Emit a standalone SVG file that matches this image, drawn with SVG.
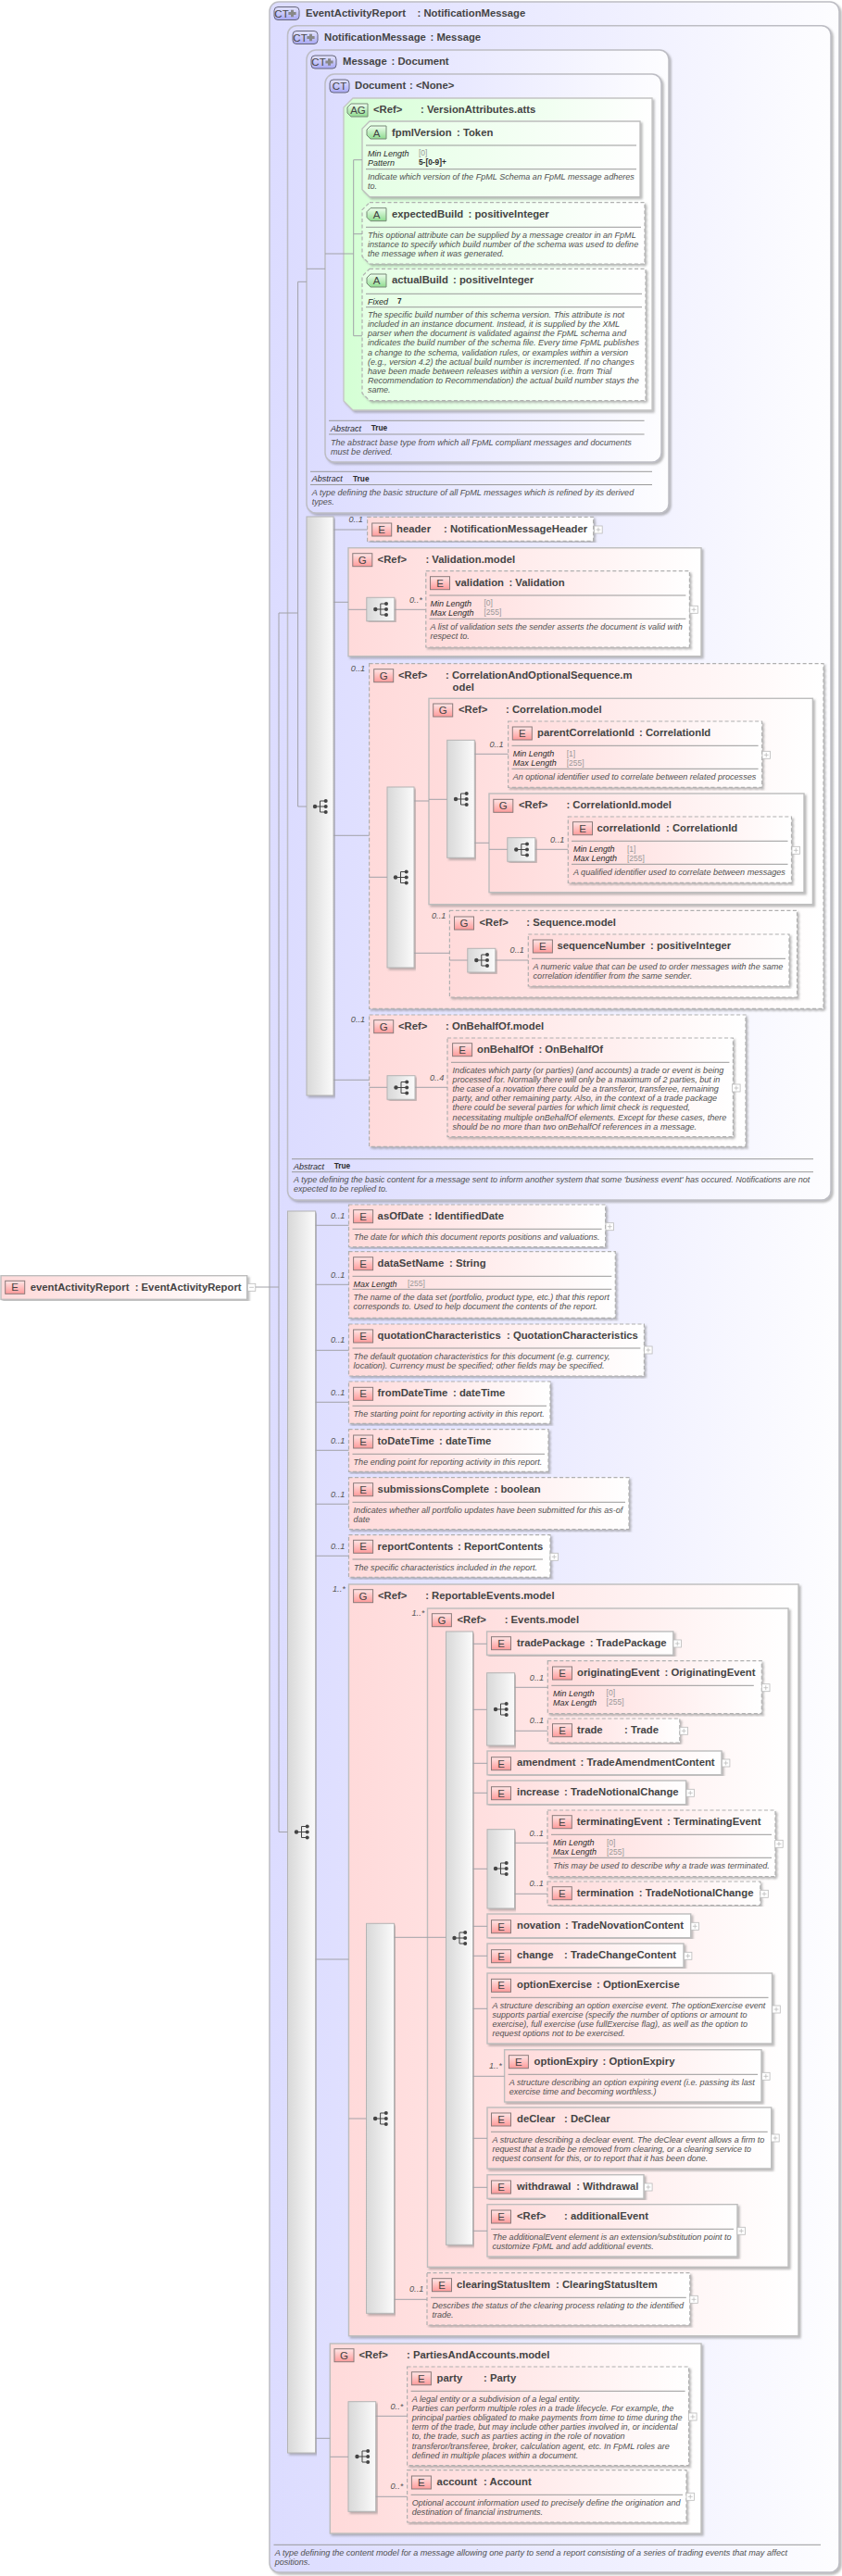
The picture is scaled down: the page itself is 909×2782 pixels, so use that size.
<svg xmlns="http://www.w3.org/2000/svg" width="909" height="2782" viewBox="0 0 909 2782">
<style>
text{font-family:"Liberation Sans",Arial,sans-serif}
.n{font-weight:700;font-size:11.3px;fill:#444}
.d{font-style:italic;font-size:9.05px;fill:#505050}
.k{font-style:italic;font-size:9px;fill:#2a2a2a}
.v{font-size:8.5px;fill:#999}
.b{font-weight:700;font-size:8.3px;fill:#2a2a2a}
.c{font-style:italic;font-size:9.2px;fill:#555}
.i{font-size:11.5px;fill:#444;text-anchor:middle}
.r{fill:none;stroke:#999;stroke-width:1}
.ct{fill:url(#gC);stroke:#bdbdc4;stroke-width:1.5;filter:url(#sh)}
.es{fill:url(#gE);stroke:#bdbdbd;stroke-width:1.4;filter:url(#sh)}
.ed{fill:url(#gE);stroke:#b0b0b0;stroke-width:1.2;stroke-dasharray:4 2.5;filter:url(#sh)}
.ag{fill:url(#gA);stroke:#c4c4c4;stroke-width:1.3;filter:url(#sh)}
.as{fill:url(#gA2);stroke:#bdbdbd;stroke-width:1.3;filter:url(#sh)}
.ad{fill:url(#gA2);stroke:#b0b0b0;stroke-width:1.2;stroke-dasharray:4 2.5;filter:url(#sh)}
.sq{fill:url(#gS);stroke:#b4b4b4;stroke-width:1;filter:url(#sh)}
#conn path{fill:none;stroke:#a2a2a8;stroke-width:1}
</style>
<defs>
<linearGradient id="gC"><stop offset="0" stop-color="#dcdcff"/><stop offset=".15" stop-color="#e0e0ff"/><stop offset="1" stop-color="#fdfdff"/></linearGradient>
<linearGradient id="gE"><stop offset="0" stop-color="#ffdada"/><stop offset=".15" stop-color="#ffdfdf"/><stop offset="1" stop-color="#ffffff"/></linearGradient>
<linearGradient id="gA"><stop offset="0" stop-color="#d4ffd4"/><stop offset=".15" stop-color="#dcffdc"/><stop offset="1" stop-color="#ffffff"/></linearGradient>
<linearGradient id="gA2"><stop offset="0" stop-color="#e4ffe4"/><stop offset="1" stop-color="#ffffff"/></linearGradient>
<linearGradient id="gS"><stop offset="0" stop-color="#d8d8d8"/><stop offset="1" stop-color="#fbfbfb"/></linearGradient>
<linearGradient id="gIE" x2="0" y2="1"><stop offset="0" stop-color="#ffe6e6"/><stop offset="1" stop-color="#ff9a9a"/></linearGradient>
<linearGradient id="gIC" x2="0" y2="1"><stop offset="0" stop-color="#e4e4ff"/><stop offset="1" stop-color="#a8a8f4"/></linearGradient>
<linearGradient id="gIA" x2="0" y2="1"><stop offset="0" stop-color="#eeffee"/><stop offset="1" stop-color="#8fdc8f"/></linearGradient>
<filter id="sh" x="-5%" y="-5%" width="110%" height="110%"><feDropShadow dx="2" dy="2" stdDeviation=".8" flood-color="#777" flood-opacity=".5"/></filter>
<g id="seq" fill="#444"><circle cx="-5.5" cy="0" r="2.2"/><circle cx="6.2" cy="-6" r="2"/><circle cx="6.2" cy="0" r="2"/><circle cx="6.2" cy="6" r="2"/><path d="M-5.5 0H6M0 -6V6M0 -6H6M0 6H6" fill="none" stroke="#444"/></g>
<g id="plus"><rect width="8.5" height="8" fill="#fff" stroke="#bbb" stroke-width=".8"/><path d="M1.8 4H6.7M4.25 1.6V6.4" stroke="#bbb" stroke-width=".8" fill="none"/></g>
<g id="minus"><rect width="8.5" height="8" fill="#fff" stroke="#bbb" stroke-width=".8"/><path d="M1.8 4H6.7" stroke="#bbb" stroke-width=".8" fill="none"/></g>
<rect id="ie" width="21" height="14" fill="url(#gIE)" stroke="#8a7a7a"/>
<rect id="ict" width="21" height="14" rx="4" fill="url(#gIC)" stroke="#66667a"/>
<g id="ictp"><rect width="27" height="14" rx="4" fill="url(#gIC)" stroke="#66667a"/><path d="M18 3.2h3v2.3h2.6v3h-2.6v2.3h-3v-2.3h-2.6v-3h2.6z" fill="#888"/></g>
<path id="ia" d="M4 0H21V14H4L0 10V4Z" fill="url(#gIA)" stroke="#778877"/>
</defs>

<g id="nodes">
<g id="root"><rect class="es" x="1" y="1377.7" width="265.7" height="25.6"/><use href="#ie" x="5.7" y="1383.3"/><text class="i" x="16.2" y="1394.3">E</text><text class="n" x="32.7" y="1394">eventActivityReport</text><text class="n" x="145.7" y="1394">: EventActivityReport</text><use href="#minus" x="267.3" y="1386.3"/></g>

<g id="ct-EventActivityReport"><rect class="ct" x="291" y="2" width="615" height="2776" rx="10"/><use href="#ictp" x="296" y="7.5"/><text class="i" x="304" y="18.5">CT</text><text class="n" x="330" y="18">EventActivityReport</text><text class="n" x="450.5" y="18">: NotificationMessage</text>
<path class="r" d="M295.5 2748.3H886"/><text class="d" x="296.7" y="2760">A type defining the content model for a message allowing one party to send a report consisting of a series of trading events that may affect</text><text class="d" x="296.7" y="2770">positions.</text></g>

<g id="ct-NotificationMessage"><rect class="ct" x="310.5" y="27.7" width="586.5" height="1268.3" rx="10"/><use href="#ictp" x="316" y="33.5"/><text class="i" x="324" y="44.5">CT</text><text class="n" x="350" y="44">NotificationMessage</text><text class="n" x="464.5" y="44">: Message</text>
<path class="r" d="M315 1251.7H878M315 1265.7H878"/><text class="k" x="317" y="1262.5">Abstract</text><text class="b" x="360.7" y="1262">True</text><text class="d" x="317" y="1277">A type defining the basic content for a message sent to inform another system that some 'business event' has occured. Notifications are not</text><text class="d" x="317" y="1287">expected to be replied to.</text></g>

<g id="ct-Message"><rect class="ct" x="331" y="54" width="391" height="500" rx="10"/><use href="#ictp" x="336" y="60"/><text class="i" x="344" y="71">CT</text><text class="n" x="370" y="70">Message</text><text class="n" x="422.5" y="70">: Document</text>
<path class="r" d="M335 509.3H704M335 523.5H704"/><text class="k" x="336.7" y="520">Abstract</text><text class="b" x="381" y="519.5">True</text><text class="d" x="336.7" y="535">A type defining the basic structure of all FpML messages which is refined by its derived</text><text class="d" x="336.7" y="545">types.</text></g>

<g id="ct-Document"><rect class="ct" x="351" y="80" width="363" height="419" rx="10"/><use href="#ict" x="356" y="86"/><text class="i" x="366.5" y="97">CT</text><text class="n" x="383" y="96">Document</text><text class="n" x="442" y="96">: &lt;None&gt;</text>
<path class="r" d="M355 454.3H695.6M355 469H695.6"/><text class="k" x="357" y="465.5">Abstract</text><text class="b" x="400.7" y="465">True</text><text class="d" x="357" y="481">The abstract base type from which all FpML compliant messages and documents</text><text class="d" x="357" y="491">must be derived.</text></g>

<g id="ag-VersionAttributes"><path class="ag" d="M381 106H704V443H381L371 433V116Z"/><path d="M379 112H397V126H379L375 122V116Z" fill="url(#gIA)" stroke="#778877"/><text class="i" x="386.5" y="123">AG</text><text class="n" x="403" y="122">&lt;Ref&gt;</text><text class="n" x="454" y="122">: VersionAttributes.atts</text></g>

<g id="a-fpmlVersion"><path class="as" d="M399 131H691V212.7H399L391 204.7V139Z"/><use href="#ia" x="396" y="136"/><text class="i" x="406.5" y="147.5">A</text><text class="n" x="423" y="147">fpmlVersion</text><text class="n" x="493" y="147">: Token</text>
<path class="r" d="M395 157H687M395 182.7H687"/><text class="k" x="397" y="168.5">Min Length</text><text class="v" x="452" y="168">[0]</text><text class="k" x="397" y="178.6">Pattern</text><text class="b" x="452" y="178">5-[0-9]+</text><text class="d" x="397" y="194">Indicate which version of the FpML Schema an FpML message adheres</text><text class="d" x="397" y="204">to.</text></g>

<g id="a-expectedBuild"><path class="ad" d="M399 218.7H696V285H399L391 277V226.7Z"/><use href="#ia" x="396" y="224.7"/><text class="i" x="406.5" y="236">A</text><text class="n" x="423" y="235">expectedBuild</text><text class="n" x="505.5" y="235">: positiveInteger</text>
<path class="r" d="M395 245.3H692"/><text class="d" x="397" y="256.5">This optional attribute can be supplied by a message creator in an FpML</text><text class="d" x="397" y="266.5">instance to specify which build number of the schema was used to define</text><text class="d" x="397" y="277">the message when it was generated.</text></g>

<g id="a-actualBuild"><path class="ad" d="M399 290.3H697V432.7H399L391 424.7V298.3Z"/><use href="#ia" x="396" y="296"/><text class="i" x="406.5" y="307.3">A</text><text class="n" x="423" y="306">actualBuild</text><text class="n" x="489" y="306">: positiveInteger</text>
<path class="r" d="M395 317.3H693M395 331.7H693"/><text class="k" x="397" y="329">Fixed</text><text class="b" x="429" y="328">7</text>
<text class="d"><tspan x="397" y="343">The specific build number of this schema version. This attribute is not</tspan><tspan x="397" y="353.1">included in an instance document. Instead, it is supplied by the XML</tspan><tspan x="397" y="363.3">parser when the document is validated against the FpML schema and</tspan><tspan x="397" y="373.4">indicates the build number of the schema file. Every time FpML publishes</tspan><tspan x="397" y="383.5">a change to the schema, validation rules, or examples within a version</tspan><tspan x="397" y="393.6">(e.g., version 4.2) the actual build number is incremented. If no changes</tspan><tspan x="397" y="403.7">have been made between releases within a version (i.e. from Trial</tspan><tspan x="397" y="413.8">Recommendation to Recommendation) the actual build number stays the</tspan><tspan x="397" y="424">same.</tspan></text></g>

<g id="seq-1"><rect class="sq" x="331" y="558" width="29" height="625"/><use href="#seq" x="345.5" y="871"/></g>

<g id="e-header"><rect class="ed" x="396.6" y="558.3" width="244" height="26"/><use href="#ie" x="401.7" y="565"/><text class="i" x="412.2" y="576">E</text><text class="n" x="428" y="575">header</text><text class="n" x="479" y="575">: NotificationMessageHeader</text><use href="#plus" x="641.7" y="568"/></g>

<g id="g-Validation"><rect class="es" x="376" y="591.7" width="381" height="117"/><use href="#ie" x="380.8" y="597.7"/><text class="i" x="391.3" y="608.7">G</text><text class="n" x="407.6" y="607.5">&lt;Ref&gt;</text><text class="n" x="459.4" y="607.5">: Validation.model</text></g>
<g id="seq-val"><rect class="sq" x="395.8" y="645.3" width="30" height="25.4"/><use href="#seq" x="410.8" y="658"/></g>
<g id="e-validation"><rect class="ed" x="459.8" y="616.7" width="284.6" height="82.3"/><use href="#ie" x="464.5" y="622.7"/><text class="i" x="475" y="633.7">E</text><text class="n" x="491.3" y="632.8">validation</text><text class="n" x="549.4" y="632.8">: Validation</text>
<path class="r" d="M463.5 643H740.4M463.5 668.3H740.4"/><text class="k" x="464.5" y="654.5">Min Length</text><text class="v" x="522.5" y="654">[0]</text><text class="k" x="464.5" y="664.5">Max Length</text><text class="v" x="522.5" y="664">[255]</text><text class="d" x="464.5" y="680">A list of validation sets the sender asserts the document is valid with</text><text class="d" x="464.5" y="690">respect to.</text><use href="#plus" x="744.8" y="654.3"/></g>

<g id="g-CorrelationAndOptionalSequence"><rect class="ed" x="398.6" y="716.7" width="490.4" height="372.6"/><use href="#ie" x="403.7" y="722.7"/><text class="i" x="414.2" y="733.7">G</text><text class="n" x="430" y="733">&lt;Ref&gt;</text><text class="n" x="481" y="733">: CorrelationAndOptionalSequence.m</text><text class="n" x="488.6" y="745.5">odel</text></g>
<g id="seq-2"><rect class="sq" x="418" y="850" width="29" height="195"/><use href="#seq" x="432.5" y="947.5"/></g>

<g id="g-Correlation"><rect class="es" x="463" y="754.3" width="414.4" height="222.4"/><use href="#ie" x="467.7" y="760"/><text class="i" x="478.2" y="771">G</text><text class="n" x="495" y="770">&lt;Ref&gt;</text><text class="n" x="546" y="770">: Correlation.model</text></g>
<g id="seq-3"><rect class="sq" x="482.7" y="799.3" width="29.6" height="127"/><use href="#seq" x="497.5" y="863"/></g>
<g id="e-parentCorrelationId"><rect class="ed" x="548.6" y="779" width="274" height="71.3"/><use href="#ie" x="553.3" y="785"/><text class="i" x="563.8" y="796">E</text><text class="n" x="580" y="795">parentCorrelationId</text><text class="n" x="690" y="795">: CorrelationId</text>
<path class="r" d="M552.5 805.3H818.6M552.5 830.3H818.6"/><text class="k" x="553.7" y="817">Min Length</text><text class="v" x="611.7" y="816.5">[1]</text><text class="k" x="553.7" y="827">Max Length</text><text class="v" x="611.7" y="826.5">[255]</text><text class="d" x="553.7" y="842">An optional identifier used to correlate between related processes</text><use href="#plus" x="823" y="811.3"/></g>
<g id="g-CorrelationId"><rect class="es" x="528" y="857" width="340" height="106.7"/><use href="#ie" x="532.8" y="863.3"/><text class="i" x="543.3" y="874.3">G</text><text class="n" x="560" y="873">&lt;Ref&gt;</text><text class="n" x="611.4" y="873">: CorrelationId.model</text></g>
<g id="seq-corrid"><rect class="sq" x="547.8" y="904.7" width="30" height="25.6"/><use href="#seq" x="562.8" y="917.5"/></g>
<g id="e-correlationId"><rect class="ed" x="613.3" y="882" width="241.2" height="71.3"/><use href="#ie" x="618.5" y="887.7"/><text class="i" x="629" y="898.7">E</text><text class="n" x="644.5" y="898">correlationId</text><text class="n" x="719" y="898">: CorrelationId</text>
<path class="r" d="M617 908.3H850.5M617 933.3H850.5"/><text class="k" x="618.9" y="920">Min Length</text><text class="v" x="677" y="919.5">[1]</text><text class="k" x="618.9" y="930">Max Length</text><text class="v" x="677" y="929.5">[255]</text><text class="d" x="618.9" y="945">A qualified identifier used to correlate between messages</text><use href="#plus" x="855" y="914.3"/></g>

<g id="g-Sequence"><rect class="ed" x="485.4" y="983.3" width="375.1" height="93.7"/><use href="#ie" x="490.5" y="990"/><text class="i" x="501" y="1001">G</text><text class="n" x="517.4" y="1000">&lt;Ref&gt;</text><text class="n" x="568.3" y="1000">: Sequence.model</text></g>
<g id="seq-seq"><rect class="sq" x="504.8" y="1024.3" width="30" height="25.7"/><use href="#seq" x="519.8" y="1037"/></g>
<g id="e-sequenceNumber"><rect class="ed" x="570.3" y="1009" width="281.7" height="56"/><use href="#ie" x="575.4" y="1015"/><text class="i" x="585.9" y="1026">E</text><text class="n" x="601.5" y="1025">sequenceNumber</text><text class="n" x="702" y="1025">: positiveInteger</text>
<path class="r" d="M574 1035.3H848"/><text class="d" x="575.6" y="1047">A numeric value that can be used to order messages with the same</text><text class="d" x="575.6" y="1057">correlation identifier from the same sender.</text></g>

<g id="g-OnBehalfOf"><rect class="ed" x="398.6" y="1096" width="406.4" height="142.3"/><use href="#ie" x="403.7" y="1101.7"/><text class="i" x="414.2" y="1112.7">G</text><text class="n" x="430" y="1112">&lt;Ref&gt;</text><text class="n" x="481" y="1112">: OnBehalfOf.model</text></g>
<g id="seq-obo"><rect class="sq" x="418" y="1161.7" width="30" height="25.6"/><use href="#seq" x="433" y="1174.5"/></g>
<g id="e-onBehalfOf"><rect class="ed" x="483" y="1121" width="308.4" height="106.7"/><use href="#ie" x="488.6" y="1126.7"/><text class="i" x="499.1" y="1137.7">E</text><text class="n" x="515" y="1137">onBehalfOf</text><text class="n" x="581.4" y="1137">: OnBehalfOf</text>
<path class="r" d="M487 1147.3H787.4"/><text class="d"><tspan x="488.6" y="1159">Indicates which party (or parties) (and accounts) a trade or event is being</tspan><tspan x="488.6" y="1169.1">processed for. Normally there will only be a maximum of 2 parties, but in</tspan><tspan x="488.6" y="1179.2">the case of a novation there could be a transferor, transferee, remaining</tspan><tspan x="488.6" y="1189.3">party, and other remaining party. Also, in the context of a trade package</tspan><tspan x="488.6" y="1199.4">there could be several parties for which limit check is requested,</tspan><tspan x="488.6" y="1209.5">necessitating multiple onBehalfOf elements. Except for these cases, there</tspan><tspan x="488.6" y="1219.6">should be no more than two onBehalfOf references in a message.</tspan></text><use href="#plus" x="790.6" y="1171"/></g>

<g id="seq-main"><rect class="sq" x="310.5" y="1308" width="30" height="1341"/><use href="#seq" x="325.5" y="1978.5"/></g>

<g id="e-asOfDate"><rect class="ed" x="376.5" y="1301" width="277.1" height="45.7"/><use href="#ie" x="381.6" y="1306.7"/><text class="i" x="392.1" y="1317.7">E</text><text class="n" x="407.6" y="1317">asOfDate</text><text class="n" x="462.5" y="1317">: IdentifiedDate</text><path class="r" d="M380.5 1327.3H649.6"/><text class="d" x="382" y="1339">The date for which this document reports positions and valuations.</text><use href="#plus" x="654" y="1320.7"/></g>
<g id="e-dataSetName"><rect class="ed" x="376.5" y="1351.7" width="287.8" height="71.6"/><use href="#ie" x="381.6" y="1357.7"/><text class="i" x="392.1" y="1368.7">E</text><text class="n" x="407.6" y="1368">dataSetName</text><text class="n" x="485" y="1368">: String</text><path class="r" d="M380.5 1378.3H660.3M380.5 1392.3H660.3"/><text class="k" x="381.6" y="1389.5">Max Length</text><text class="v" x="440" y="1389">[255]</text><text class="d" x="381.6" y="1404">The name of the data set (portfolio, product type, etc.) that this report</text><text class="d" x="381.6" y="1414">corresponds to. Used to help document the contents of the report.</text></g>
<g id="e-quotationCharacteristics"><rect class="ed" x="376.5" y="1430" width="318.9" height="56"/><use href="#ie" x="381.6" y="1436"/><text class="i" x="392.1" y="1447">E</text><text class="n" x="407.6" y="1446">quotationCharacteristics</text><text class="n" x="547" y="1446">: QuotationCharacteristics</text><path class="r" d="M380.5 1456H691.4"/><text class="d" x="381.6" y="1468">The default quotation characteristics for this document (e.g. currency,</text><text class="d" x="381.6" y="1478">location). Currency must be specified; other fields may be specified.</text><use href="#plus" x="695.6" y="1454"/></g>
<g id="e-fromDateTime"><rect class="ed" x="376.5" y="1492" width="217.5" height="45.3"/><use href="#ie" x="381.6" y="1498.3"/><text class="i" x="392.1" y="1509.3">E</text><text class="n" x="407.6" y="1508">fromDateTime</text><text class="n" x="489" y="1508">: dateTime</text><path class="r" d="M380.5 1518.3H590"/><text class="d" x="381.6" y="1530">The starting point for reporting activity in this report.</text></g>
<g id="e-toDateTime"><rect class="ed" x="376.5" y="1543.7" width="215.5" height="45.6"/><use href="#ie" x="381.6" y="1550"/><text class="i" x="392.1" y="1561">E</text><text class="n" x="407.6" y="1560">toDateTime</text><text class="n" x="474" y="1560">: dateTime</text><path class="r" d="M380.5 1570.3H588"/><text class="d" x="381.6" y="1582">The ending point for reporting activity in this report.</text></g>
<g id="e-submissionsComplete"><rect class="ed" x="376.5" y="1595.7" width="302.5" height="56"/><use href="#ie" x="381.6" y="1601.7"/><text class="i" x="392.1" y="1612.7">E</text><text class="n" x="407.6" y="1612">submissionsComplete</text><text class="n" x="533.5" y="1612">: boolean</text><path class="r" d="M380.5 1622.3H675"/><text class="d" x="381.6" y="1634">Indicates whether all portfolio updates have been submitted for this as-of</text><text class="d" x="381.6" y="1644">date</text></g>
<g id="e-reportContents"><rect class="ed" x="376.5" y="1657.7" width="217.5" height="45.6"/><use href="#ie" x="381.6" y="1663.3"/><text class="i" x="392.1" y="1674.3">E</text><text class="n" x="407.6" y="1674">reportContents</text><text class="n" x="494" y="1674">: ReportContents</text><path class="r" d="M380.5 1684H586"/><text class="d" x="382" y="1696">The specific characteristics included in the report.</text><use href="#plus" x="594" y="1677.3"/></g>

<g id="g-ReportableEvents"><rect class="es" x="376.5" y="1711" width="485.5" height="811.7"/><use href="#ie" x="381.6" y="1716.7"/><text class="i" x="392.1" y="1727.7">G</text><text class="n" x="408" y="1727">&lt;Ref&gt;</text><text class="n" x="459.2" y="1727">: ReportableEvents.model</text></g>
<g id="seq-4"><rect class="sq" x="395.5" y="2077.3" width="30" height="421"/><use href="#seq" x="410.6" y="2288"/></g>
<g id="g-Events"><rect class="es" x="461.5" y="1737" width="389.5" height="711.3"/><use href="#ie" x="466.4" y="1742.7"/><text class="i" x="476.9" y="1753.7">G</text><text class="n" x="493.4" y="1753">&lt;Ref&gt;</text><text class="n" x="544.7" y="1753">: Events.model</text></g>
<g id="seq-5"><rect class="sq" x="481.5" y="1762" width="29" height="662.3"/><use href="#seq" x="496" y="2093"/></g>

<g id="e-tradePackage"><rect class="es" x="525.6" y="1762" width="201.2" height="25.3"/><use href="#ie" x="530.5" y="1767.7"/><text class="i" x="541" y="1778.7">E</text><text class="n" x="558" y="1778">tradePackage</text><text class="n" x="636.7" y="1778">: TradePackage</text><use href="#plus" x="727" y="1771"/></g>
<g id="seq-6"><rect class="sq" x="525.6" y="1806.7" width="29.9" height="78.3"/><use href="#seq" x="540.5" y="1846"/></g>
<g id="e-originatingEvent"><rect class="ed" x="591.3" y="1793.7" width="231" height="57"/><use href="#ie" x="596.5" y="1800"/><text class="i" x="607" y="1811">E</text><text class="n" x="623" y="1810">originatingEvent</text><text class="n" x="717.5" y="1810">: OriginatingEvent</text><path class="r" d="M595.3 1820.3H813.8"/><text class="k" x="597" y="1831.5">Min Length</text><text class="v" x="654.6" y="1831">[0]</text><text class="k" x="597" y="1841.5">Max Length</text><text class="v" x="654.6" y="1841">[255]</text><use href="#plus" x="822.5" y="1818.7"/></g>
<g id="e-trade"><rect class="ed" x="591.3" y="1856" width="142.5" height="26"/><use href="#ie" x="596.5" y="1861.7"/><text class="i" x="607" y="1872.7">E</text><text class="n" x="623" y="1872">trade</text><text class="n" x="674" y="1872">: Trade</text><use href="#plus" x="734" y="1865.3"/></g>
<g id="e-amendment"><rect class="es" x="526" y="1891" width="253" height="25.7"/><use href="#ie" x="530.5" y="1897.7"/><text class="i" x="541" y="1908.7">E</text><text class="n" x="558" y="1907">amendment</text><text class="n" x="626.6" y="1907">: TradeAmendmentContent</text><use href="#plus" x="779.4" y="1900"/></g>
<g id="e-increase"><rect class="es" x="526" y="1923" width="214.6" height="25.7"/><use href="#ie" x="530.5" y="1929.7"/><text class="i" x="541" y="1940.7">E</text><text class="n" x="558" y="1939">increase</text><text class="n" x="609" y="1939">: TradeNotionalChange</text><use href="#plus" x="741" y="1932.3"/></g>
<g id="seq-7"><rect class="sq" x="526" y="1975.7" width="29.5" height="85.3"/><use href="#seq" x="540.5" y="2018"/></g>
<g id="e-terminatingEvent"><rect class="ed" x="591" y="1955" width="246" height="71.7"/><use href="#ie" x="596.3" y="1960.7"/><text class="i" x="606.8" y="1971.7">E</text><text class="n" x="622.7" y="1971">terminatingEvent</text><text class="n" x="720" y="1971">: TerminatingEvent</text><path class="r" d="M595 1981.3H833M595 2006.3H833"/><text class="k" x="597" y="1993">Min Length</text><text class="v" x="655" y="1992.5">[0]</text><text class="k" x="597" y="2003">Max Length</text><text class="v" x="655" y="2002.5">[255]</text><text class="d" x="597" y="2018">This may be used to describe why a trade was terminated.</text><use href="#plus" x="836.7" y="1987.3"/></g>
<g id="e-termination"><rect class="ed" x="591" y="2032" width="229.8" height="25.7"/><use href="#ie" x="596.3" y="2037.7"/><text class="i" x="606.8" y="2048.7">E</text><text class="n" x="622.7" y="2048">termination</text><text class="n" x="689.8" y="2048">: TradeNotionalChange</text><use href="#plus" x="820.8" y="2041.3"/></g>
<g id="e-novation"><rect class="es" x="526" y="2067" width="219.7" height="25.7"/><use href="#ie" x="530.5" y="2073.7"/><text class="i" x="541" y="2084.7">E</text><text class="n" x="558" y="2083">novation</text><text class="n" x="610" y="2083">: TradeNovationContent</text><use href="#plus" x="746" y="2076.3"/></g>
<g id="e-change"><rect class="es" x="526" y="2099" width="212" height="25.7"/><use href="#ie" x="530.5" y="2105.7"/><text class="i" x="541" y="2116.7">E</text><text class="n" x="558" y="2115">change</text><text class="n" x="609" y="2115">: TradeChangeContent</text><use href="#plus" x="738.4" y="2108.3"/></g>
<g id="e-optionExercise"><rect class="es" x="526" y="2131" width="307.5" height="76"/><use href="#ie" x="530.5" y="2137.3"/><text class="i" x="541" y="2148.3">E</text><text class="n" x="558" y="2147">optionExercise</text><text class="n" x="644" y="2147">: OptionExercise</text><path class="r" d="M530 2157.3H829.5"/><text class="d"><tspan x="531.5" y="2169">A structure describing an option exercise event. The optionExercise event</tspan><tspan x="531.5" y="2179">supports partial exercise (specify the number of options or amount to</tspan><tspan x="531.5" y="2189.3">exercise), full exercise (use fullExercise flag), as well as the option to</tspan><tspan x="531.5" y="2199.3">request options not to be exercised.</tspan></text><use href="#plus" x="833.8" y="2166"/></g>
<g id="e-optionExpiry"><rect class="es" x="544.6" y="2213.7" width="277.4" height="56.3"/><use href="#ie" x="549.4" y="2219.7"/><text class="i" x="559.9" y="2230.7">E</text><text class="n" x="576.6" y="2230">optionExpiry</text><text class="n" x="650.6" y="2230">: OptionExpiry</text><path class="r" d="M548.6 2240.3H818"/><text class="d" x="549.7" y="2252">A structure describing an option expiring event (i.e. passing its last</text><text class="d" x="549.7" y="2262">exercise time and becoming worthless.)</text><use href="#plus" x="822.6" y="2238.3"/></g>
<g id="e-deClear"><rect class="es" x="526" y="2276" width="306.7" height="66"/><use href="#ie" x="530.5" y="2282"/><text class="i" x="541" y="2293">E</text><text class="n" x="558" y="2292">deClear</text><text class="n" x="609" y="2292">: DeClear</text><path class="r" d="M530 2302.3H828.7"/><text class="d"><tspan x="531.5" y="2314">A structure describing a declear event. The deClear event allows a firm to</tspan><tspan x="531.5" y="2324">request that a trade be removed from clearing, or a clearing service to</tspan><tspan x="531.5" y="2334.3">request consent for this, or to report that it has been done.</tspan></text><use href="#plus" x="832.7" y="2305"/></g>
<g id="e-withdrawal"><rect class="es" x="526" y="2348.7" width="169" height="25.6"/><use href="#ie" x="530.5" y="2355"/><text class="i" x="541" y="2366">E</text><text class="n" x="558" y="2365">withdrawal</text><text class="n" x="622.3" y="2365">: Withdrawal</text><use href="#plus" x="695.6" y="2358"/></g>
<g id="e-additionalEvent"><rect class="es" x="526" y="2380.7" width="270" height="56.3"/><use href="#ie" x="530.5" y="2387"/><text class="i" x="541" y="2398">E</text><text class="n" x="558" y="2397">&lt;Ref&gt;</text><text class="n" x="609" y="2397">: additionalEvent</text><path class="r" d="M530 2407.3H792"/><text class="d" x="531.5" y="2419">The additionalEvent element is an extension/substitution point to</text><text class="d" x="531.5" y="2429">customize FpML and add additional events.</text><use href="#plus" x="796" y="2405.3"/></g>
<g id="e-clearingStatusItem"><rect class="ed" x="461" y="2454.7" width="283.8" height="56.3"/><use href="#ie" x="466.5" y="2460.7"/><text class="i" x="477" y="2471.7">E</text><text class="n" x="493" y="2471">clearingStatusItem</text><text class="n" x="600" y="2471">: ClearingStatusItem</text><path class="r" d="M465 2481.3H740.8"/><text class="d" x="466.5" y="2493">Describes the status of the clearing process relating to the identified</text><text class="d" x="466.5" y="2503">trade.</text><use href="#plus" x="744.8" y="2479.3"/></g>

<g id="g-PartiesAndAccounts"><rect class="es" x="356.3" y="2531" width="400.7" height="205"/><use href="#ie" x="361" y="2536.7"/><text class="i" x="371.5" y="2547.7">G</text><text class="n" x="387.5" y="2547">&lt;Ref&gt;</text><text class="n" x="439" y="2547">: PartiesAndAccounts.model</text></g>
<g id="seq-8"><rect class="sq" x="376" y="2593.7" width="29.7" height="118.6"/><use href="#seq" x="391" y="2653"/></g>
<g id="e-party"><rect class="ed" x="439.6" y="2556" width="304" height="106.7"/><use href="#ie" x="444.4" y="2561.7"/><text class="i" x="454.9" y="2572.7">E</text><text class="n" x="471.6" y="2572">party</text><text class="n" x="522" y="2572">: Party</text><path class="r" d="M443.6 2582.3H739.6"/><text class="d"><tspan x="444.8" y="2594">A legal entity or a subdivision of a legal entity.</tspan><tspan x="444.8" y="2604.1">Parties can perform multiple roles in a trade lifecycle. For example, the</tspan><tspan x="444.8" y="2614.2">principal parties obligated to make payments from time to time during the</tspan><tspan x="444.8" y="2624.3">term of the trade, but may include other parties involved in, or incidental</tspan><tspan x="444.8" y="2634.4">to, the trade, such as parties acting in the role of novation</tspan><tspan x="444.8" y="2644.5">transferor/transferee, broker, calculation agent, etc. In FpML roles are</tspan><tspan x="444.8" y="2654.6">defined in multiple places within a document.</tspan></text><use href="#plus" x="743.6" y="2606"/></g>
<g id="e-account"><rect class="ed" x="439.6" y="2667.7" width="301.4" height="56.3"/><use href="#ie" x="444.4" y="2674"/><text class="i" x="454.9" y="2685">E</text><text class="n" x="471.6" y="2684">account</text><text class="n" x="522" y="2684">: Account</text><path class="r" d="M443.6 2694.3H737"/><text class="d" x="444.8" y="2706">Optional account information used to precisely define the origination and</text><text class="d" x="444.8" y="2716">destination of financial instruments.</text><use href="#plus" x="741" y="2692.3"/></g>
</g>

<g id="conn">
<path d="M275.8 1390H301M301 662V1978.5H310.5M301 662H321.6M321.6 304.3V871H331M321.6 304.3H331M331 290.3H351M351 274H381.7M381.7 172.7V362.7M381.7 172.7H391M381.7 252.7H391M381.7 362.7H391"/>
<path d="M360 572H396.6M360 650.3H376M376 658.3H395.8M425.8 658.3H459.8M360 902.3H398.6M398.6 947.3H418M447 865H463M447 1029.3H485.4M463 863.3H482.7M512.3 814.3H548.6M512.3 910.3H528M528 917.3H547.8M577.8 917.3H613.3M485.4 1037H504.8M534.8 1037H570.3M360 1166.3H398.6M398.6 1174.3H418M448 1174.3H483"/>
<path d="M340.5 1323.3H376.5M340.5 1387.3H376.5M340.5 1458.3H376.5M340.5 1514.3H376.5M340.5 1566.3H376.5M340.5 1624.3H376.5M340.5 1680.3H376.5M340.5 2116H376.5M340.5 2633.3H356.3M356.3 2653.3H376M405.7 2609.3H439.6M405.7 2696.3H439.6"/>
<path d="M376.5 2288H395.5M425.5 2092.3H481.5M425.5 2483.3H461M510.5 1775.3H525.6M510.5 1846.3H525.6M555.5 1822.3H591.3M555.5 1869.3H591.3M510.5 1904.3H526M510.5 1936.3H526M510.5 2018.3H526M555.5 1990.3H591M555.5 2045.3H591M510.5 2080.3H526M510.5 2112.3H526M510.5 2169.3H526M510.5 2242.3H544.6M510.5 2309.3H526M510.5 2362.3H526M510.5 2409.3H526"/>
</g>

<g id="cardinalities">
<text class="c" x="376.5" y="564">0..1</text><text class="c" x="442" y="650.5">0..*</text><text class="c" x="378.8" y="724.5">0..1</text><text class="c" x="528.4" y="807">0..1</text><text class="c" x="594" y="910">0..1</text><text class="c" x="466" y="991.5">0..1</text><text class="c" x="550.6" y="1029">0..1</text><text class="c" x="378.8" y="1103.5">0..1</text><text class="c" x="464" y="1167">0..4</text>
<text class="c" x="357" y="1316">0..1</text><text class="c" x="357" y="1380">0..1</text><text class="c" x="357" y="1450">0..1</text><text class="c" x="357" y="1507">0..1</text><text class="c" x="357" y="1559">0..1</text><text class="c" x="357" y="1616.5">0..1</text><text class="c" x="357" y="1673">0..1</text><text class="c" x="359" y="1718.5">1..*</text><text class="c" x="444.5" y="1745">1..*</text>
<text class="c" x="571.8" y="1814.5">0..1</text><text class="c" x="571.8" y="1861">0..1</text><text class="c" x="571.5" y="1983">0..1</text><text class="c" x="571.5" y="2037">0..1</text><text class="c" x="528" y="2234">1..*</text><text class="c" x="442" y="2475">0..1</text><text class="c" x="421.5" y="2601.5">0..*</text><text class="c" x="421.5" y="2688">0..*</text>
</g>
</svg>
